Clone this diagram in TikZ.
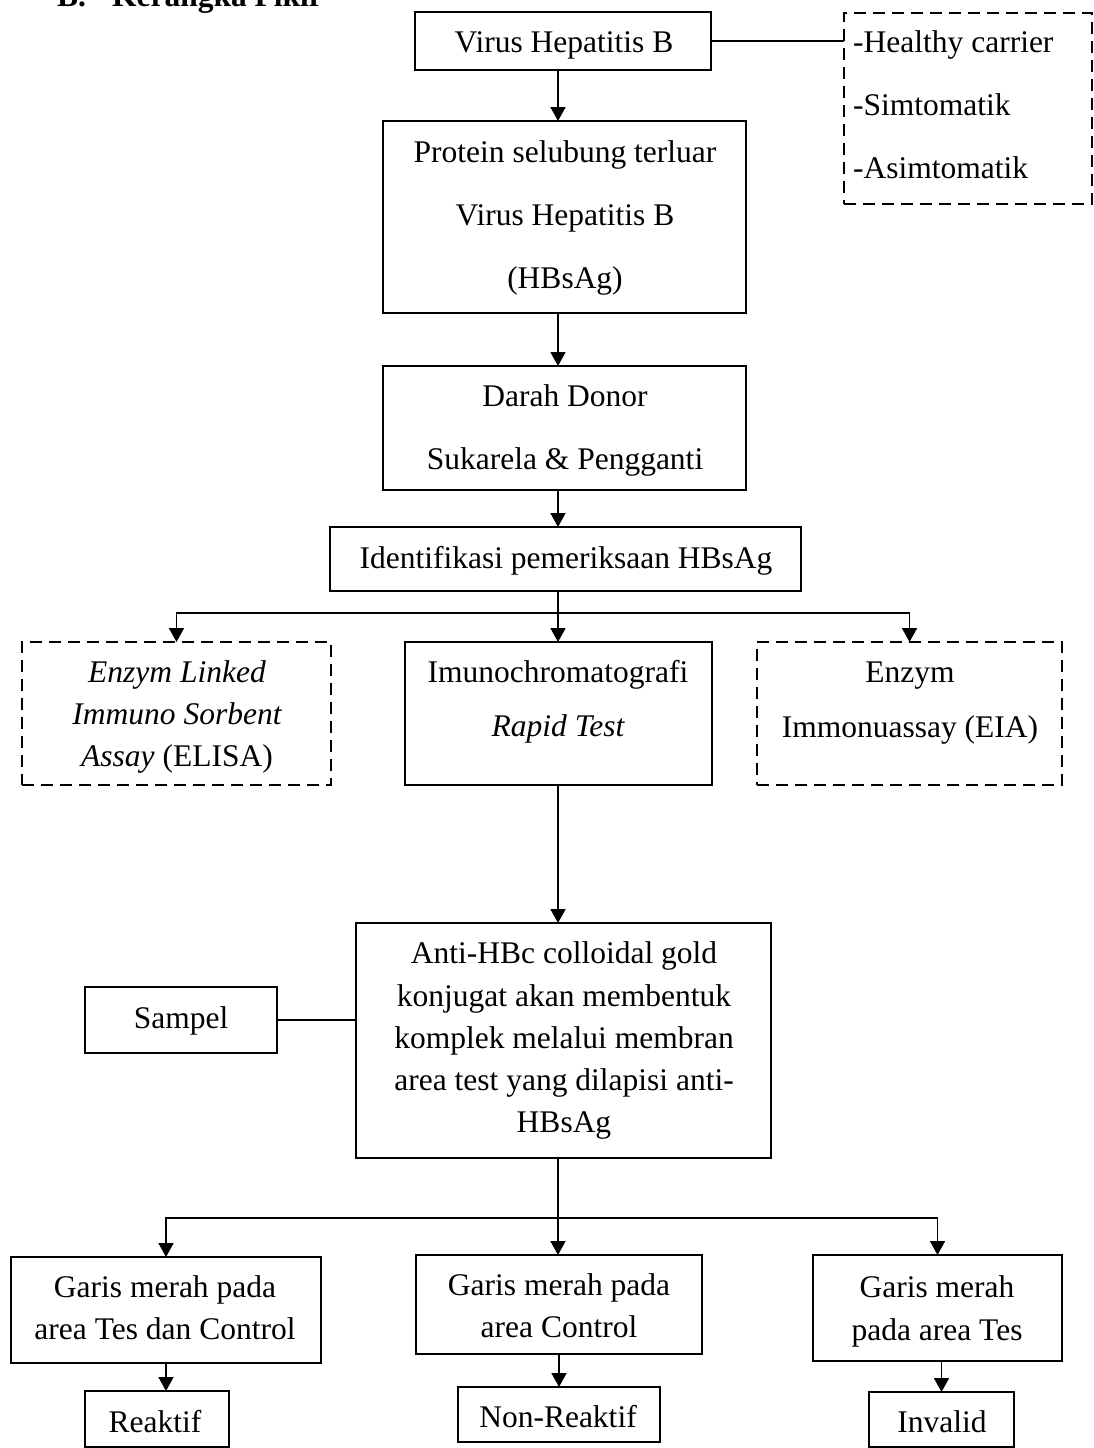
\documentclass[tikz,border=0pt]{standalone}
\usepackage{fontspec}
\setmainfont{Liberation Serif}
\usetikzlibrary{arrows.meta}
\newcommand\mkbox[6]{\node[#2, minimum width={#5-#3}, minimum height={#6-#4}] (#1) at ({(#3+#5)/2},{(#4+#6)/2}) {};}
\begin{document}
\begin{tikzpicture}[x=1pt,y=-1pt,
  box/.style={draw, line width=1.8pt, inner sep=0pt, outer sep=0pt, rectangle},
  dbox/.style={box, dash pattern=on 12pt off 7pt},
  txt/.style={anchor=base, inner sep=0pt, font=\fontsize{31.5}{38}\selectfont},
  ltxt/.style={txt, anchor=base west},
  ln/.style={line width=1.8pt},
  arr/.style={line width=1.8pt, -{Triangle[length=14pt,width=15pt]}}]
\useasboundingbox (0,0) rectangle (1094,1448);
% title (cut at top)
\node[txt, anchor=base west, font=\fontsize{31.5}{38}\selectfont\bfseries] (ttl) at (57,6) {B.\hspace{26pt}Kerangka Pikir};
% boxes
\mkbox{v}{box}{415}{12}{711}{70}
\mkbox{car}{dbox}{844}{13}{1092}{204}
\mkbox{p}{box}{383}{121}{746}{313}
\mkbox{d}{box}{383}{366}{746}{490}
\mkbox{id}{box}{330}{527}{801}{591}
\mkbox{e}{dbox}{22}{642}{331}{785}
\mkbox{im}{box}{405}{642}{712}{785}
\mkbox{eia}{dbox}{757}{642}{1062}{785}
\mkbox{anti}{box}{356}{923}{771}{1158}
\mkbox{samp}{box}{85}{987}{277}{1053}
\mkbox{ga}{box}{11}{1257}{321}{1363}
\mkbox{gb}{box}{416}{1255}{702}{1354}
\mkbox{gc}{box}{813}{1255}{1062}{1361}
\mkbox{ra}{box}{85}{1391}{229}{1447}
\mkbox{rb}{box}{458}{1387}{660}{1442}
\mkbox{rc}{box}{869}{1392}{1014}{1447}
% texts
\node[txt] (tv) at (564,52) {Virus Hepatitis B};
\node[ltxt] (tc1) at (853,52) {-Healthy carrier};
\node[ltxt] (tc2) at (853,115) {-Simtomatik};
\node[ltxt] (tc3) at (853,178) {-Asimtomatik};
\node[txt] (tp1) at (565,162) {Protein selubung terluar};
\node[txt] (tp2) at (565,225) {Virus Hepatitis B};
\node[txt] (tp3) at (565,288) {(HBsAg)};
\node[txt] (td1) at (565,406) {Darah Donor};
\node[txt] (td2) at (565,469) {Sukarela \& Pengganti};
\node[txt] (tid) at (566,568) {Identifikasi pemeriksaan HBsAg};
\node[txt] (te1) at (177,682) {\itshape Enzym Linked};
\node[txt] (te2) at (177,724) {\itshape Immuno Sorbent};
\node[txt] (te3) at (177,766) {\itshape Assay\/\upshape\ (ELISA)};
\node[txt] (ti1) at (558,682) {Imunochromatografi};
\node[txt] (ti2) at (558,736) {\itshape Rapid Test};
\node[txt] (tz1) at (910,682) {Enzym};
\node[txt] (tz2) at (910,737) {Immonuassay (EIA)};
\node[txt] (ta1) at (564,963) {Anti-HBc colloidal gold};
\node[txt] (ta2) at (564,1006) {konjugat akan membentuk};
\node[txt] (ta3) at (564,1048) {komplek melalui membran};
\node[txt] (ta4) at (564,1090) {area test yang dilapisi anti-};
\node[txt] (ta5) at (564,1132) {HBsAg};
\node[txt] (ts) at (181,1028) {Sampel};
\node[txt] (tga1) at (165,1297) {Garis merah pada};
\node[txt] (tga2) at (165,1339) {area Tes dan Control};
\node[txt] (tgb1) at (559,1295) {Garis merah pada};
\node[txt] (tgb2) at (559,1337) {area Control};
\node[txt] (tgc1) at (937,1297) {Garis merah};
\node[txt] (tgc2) at (937,1340) {pada area Tes};
\node[txt] (tra) at (155,1432) {Reaktif};
\node[txt] (trb) at (558,1427) {Non-Reaktif};
\node[txt] (trc) at (942,1432) {Invalid};
% connectors
\coordinate (ax) at (558,0);
\coordinate (j1) at (558,613);
\coordinate (j2) at (558,1218);
\draw[ln] (v.east) -- (v.east -| car.west);
\draw[arr] (v.south -| ax) -- (p.north -| ax);
\draw[arr] (p.south -| ax) -- (d.north -| ax);
\draw[arr] (d.south -| ax) -- (id.north -| ax);
\draw[arr] (id.south -| ax) -- (im.north -| ax);
\draw[arr] (j1) -| (e.north);
\draw[arr] (j1) -| (eia.north);
\draw[arr] (im.south -| ax) -- (anti.north -| ax);
\draw[ln] (samp.east) -- (samp.east -| anti.west);
\draw[ln] (anti.south -| ax) -- (j2);
\draw[arr] (j2) -- (gb.north -| ax);
\draw[arr] (j2) -| (ga.north);
\draw[arr] (j2) -| (gc.north);
\draw[arr] (ga.south) -- (ga.south |- ra.north);
\draw[arr] (gb.south) -- (rb.north);
\draw[arr] (rc.north |- gc.south) -- (rc.north);
\end{tikzpicture}
\end{document}
